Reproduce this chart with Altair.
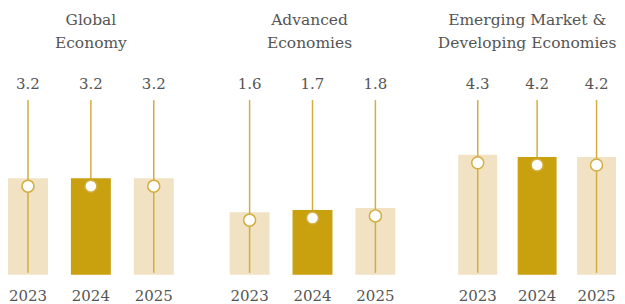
import altair as alt
import pandas as pd

# ---- data ----
YEARS = ["2023", "2024", "2025"]
HIGHLIGHT_YEAR = "2024"
PANEL_TITLES = ["Global\nEconomy", "Advanced\nEconomies", "Emerging Market &\nDeveloping Economies"]
GLOBAL = [3.2, 3.2, 3.2]
ADVANCED = [1.6, 1.7, 1.8]
EMDE = [4.3, 4.2, 4.2]
SERIES = [GLOBAL, ADVANCED, EMDE]

# ---- style / layout ----
FONT = "DejaVu Serif"
TEXT_COLOR = "#555555"
LIGHT = "#F0E2C2"
DARK = "#C9A00E"
LINE = "#D3AD3E"
PANEL_H = 267
Y_DOMAIN = [-1.35, 11.2]
TITLE_X = [83, 80, 69]
PANEL_W = [166, 173, 158]
PAD_INNER = [23 / 63, 23 / 63, 20.5 / 59.5]
PAD_OUTER = [0, 0.0556, 0]


def panel(values, title, title_x, width, pad_inner, pad_outer):
    df = pd.DataFrame({"year": YEARS, "value": values})
    df["hi"] = df["year"] == HIGHLIGHT_YEAR
    base = alt.Chart(df).encode(
        x=alt.X(
            "year:N",
            sort=YEARS,
            scale=alt.Scale(paddingInner=pad_inner, paddingOuter=pad_outer, align=0),
            axis=alt.Axis(
                title=None, domain=False, ticks=False, labelAngle=0,
                labelFont=FONT, labelFontSize=15, labelColor=TEXT_COLOR,
                labelPadding=14,
            ),
        )
    )
    yenc = alt.Y("value:Q", scale=alt.Scale(domain=Y_DOMAIN, nice=False, zero=False), axis=None)
    ybase = alt.datum(Y_DOMAIN[0])

    light_bars = base.transform_filter("!datum.hi").mark_bar(color=LIGHT).encode(
        y=yenc, y2=ybase
    )
    rules = base.mark_rule(color=LINE, strokeWidth=1.5).encode(
        y=alt.value(92), y2=alt.value(PANEL_H - 2)
    )
    dark_bars = base.transform_filter("datum.hi").mark_bar(color=DARK).encode(
        y=yenc, y2=ybase
    )
    dots = base.mark_point(
        shape="circle", filled=False, fill="white", fillOpacity=1,
        stroke=LINE, strokeWidth=1.5, size=145, opacity=1,
    ).encode(y=yenc, yOffset=alt.value(8))
    labels = base.mark_text(
        font=FONT, fontSize=15, color=TEXT_COLOR, baseline="middle"
    ).encode(y=alt.value(76), text=alt.Text("value:Q", format=".1f"))

    tdf = pd.DataFrame({"t": [title]})
    ttl = alt.Chart(tdf).mark_text(
        font=FONT, fontSize=15.5, color=TEXT_COLOR, lineBreak="\n",
        lineHeight=23, baseline="middle", align="center",
    ).encode(text="t:N", x=alt.value(title_x), y=alt.value(12))

    return alt.layer(light_bars, rules, dark_bars, dots, labels, ttl).properties(
        width=width, height=PANEL_H
    )


panels = [
    panel(SERIES[i], PANEL_TITLES[i], TITLE_X[i], PANEL_W[i], PAD_INNER[i], PAD_OUTER[i])
    for i in range(3)
]

chart = alt.hconcat(*panels, spacing=56, bounds="flush").properties(
    padding=0, background="white"
).configure_view(stroke=None)

chart.save("out.html", embed_options={"renderer": "svg", "actions": False})
